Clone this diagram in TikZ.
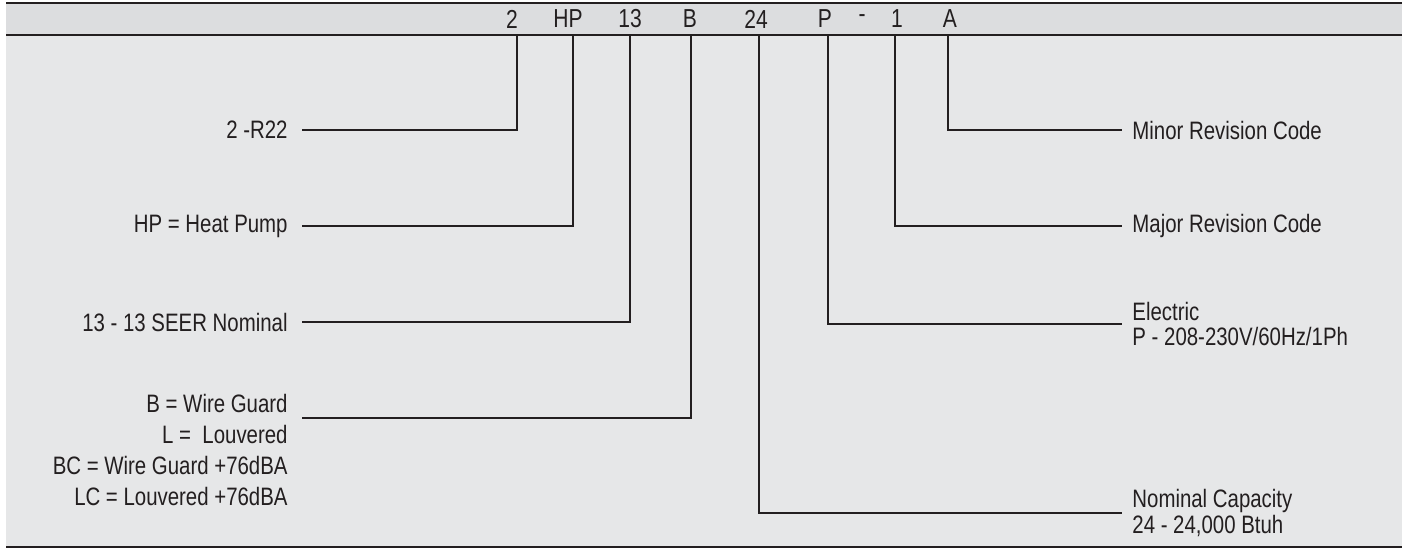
\documentclass[tikz,border=0pt]{standalone}
\usepackage{fontspec}
\setmainfont{Liberation Sans}[FakeStretch=0.81]
\usetikzlibrary{positioning}
\definecolor{ink}{HTML}{231F20}
\definecolor{headbg}{HTML}{DCDDDF}
\definecolor{bodybg}{HTML}{E6E7E8}

\begin{document}
\begin{tikzpicture}[x=0.5pt,y=-0.5pt,
  font=\fontsize{12.6}{12.8}\selectfont,
  rule/.style={draw=ink,line width=1.4pt},
  lead/.style={draw=ink,line width=1.15pt},
  lbl/.style={text=ink,inner sep=0pt},
  code/.style={text=ink,inner sep=0pt,font=\fontsize{13}{13}\selectfont}]
\useasboundingbox (0,0) rectangle (1406,548);
% bands
\fill[headbg] (6,3) rectangle (1402,35);
\fill[bodybg] (6,35) rectangle (1402,548);
\draw[rule] (6,3) -- (1402,3);
\draw[rule] (6,35) -- (1402,35);
\draw[rule] (6,547) -- (1402,547);
% model code
\node[code] (c2)  at (512,19) {2};
\node[code] (cHP) at (568,19) {HP};
\node[code] (c13) at (630,19) {13};
\node[code] (cB)  at (690,19) {B};
\node[code] (c24) at (756,19) {24};
\node[code] (cP)  at (825,19) {P};
\node[code] (cd)  at (862,19) {-};
\node[code] (c1)  at (897,19) {1};
\node[code] (cA)  at (950,19) {A};
% drop points
\coordinate (d2)  at (517,35);
\coordinate (dHP) at (573,35);
\coordinate (d13) at (630,35);
\coordinate (dB)  at (691,35);
\coordinate (d24) at (759,35);
\coordinate (dP)  at (828,35);
\coordinate (d1)  at (895,35);
\coordinate (dA)  at (948,35);
% left labels
\node[lbl,anchor=east] (l2)  at (288,130) {2 -R22};
\node[lbl,anchor=east] (lHP) at (288,226) {HP = Heat Pump};
\node[lbl,anchor=east] (l13) at (288,322) {13 - 13 SEER Nominal};
\node[lbl,anchor=north east,align=right,
      font=\fontsize{12.6}{15.5}\selectfont] (lB) at (288,394)
  {B = Wire Guard\\L =\ \ Louvered\\BC = Wire Guard +76dBA\\LC = Louvered +76dBA};
% right labels
\node[lbl,anchor=west] (rA) at (1132,130) {Minor Revision Code};
\node[lbl,anchor=west] (r1) at (1132,226) {Major Revision Code};
\node[lbl,anchor=west,align=left] (rP) at (1132,324)
  {Electric\\P - 208-230V/60Hz/1Ph};
\node[lbl,anchor=west,align=left] (r24) at (1132,513)
  {Nominal Capacity\\24 - 24,000 Btuh};
% leaders
\draw[lead] (l2.east)  ++(14,0) -| (d2);
\draw[lead] (lHP.east) ++(14,0) -| (dHP);
\draw[lead] (l13.east) ++(14,0) -| (d13);
\draw[lead] (lB.north east) ++(14,24) -| (dB);
\draw[lead] (dA)  |- ([xshift=-5pt]rA.west);
\draw[lead] (d1)  |- ([xshift=-5pt]r1.west);
\draw[lead] (dP)  |- ([xshift=-5pt]rP.west);
\draw[lead] (d24) |- ([xshift=-5pt]r24.west);
\end{tikzpicture}
\end{document}
